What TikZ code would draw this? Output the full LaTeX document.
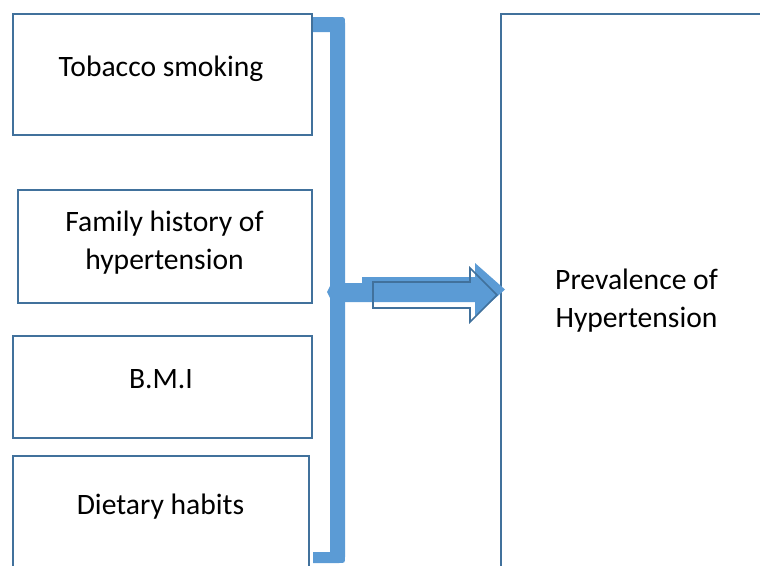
\documentclass[tikz,border=0pt]{standalone}
\usepackage{fontspec}
\setmainfont{Carlito}
\definecolor{boxline}{HTML}{41719C}
\definecolor{bracefill}{HTML}{5B9BD5}
\begin{document}
\begin{tikzpicture}[x=0.75pt,y=-0.75pt,
  factor/.style={draw=boxline, line width=1.6pt, fill=white, inner sep=0pt, outer sep=0pt},
  txt/.style={font=\fontsize{22.2pt}{28.5pt}\selectfont, align=center, inner sep=0pt, anchor=base},
  arrowline/.style={draw=boxline, line width=1.2pt, line join=miter}]
\useasboundingbox (0,0) rectangle (760,565);
\clip (0,0) rectangle (760,565);
% factor boxes
\node[factor, minimum width=224.25pt, minimum height=90.75pt] (b1) at (162.5,74.5) {};
\node[factor, minimum width=220.5pt, minimum height=84.75pt] (b2) at (165,246.5) {};
\node[factor, minimum width=224.25pt, minimum height=76.5pt] (b3) at (162.5,387) {};
\node[factor, minimum width=222pt, minimum height=107.25pt] (b4) at (161,527.5) {};
% outcome box
\node[factor, anchor=north west, minimum width=225pt, minimum height=450pt] (prev) at (501,14) {};
% texts (multi-line nodes are anchored at the baseline of their last line)
\node[txt] (t1) at (161,76) {Tobacco smoking};
\node[txt] (t2) at (164.5,269) {Family history of\\hypertension};
\node[txt] (t3) at (161,388) {B.M.I};
\node[txt] (t4) at (160.5,514) {Dietary habits};
\node[txt] (t5) at (636.5,327) {Prevalence of\\Hypertension};
% brace
\fill[bracefill] (313,17) -- (339,17) .. controls (345,17) .. (345,23) -- (345,557)
  .. controls (345,563) .. (339,563) -- (313,563) -- (313,552) -- (330,552) -- (330,298)
  -- (327,292) -- (330,286) -- (330,32) -- (313,32) -- cycle;
% filled arrow
\fill[bracefill] (344,283) -- (362,283) -- (362,277) -- (475,277) -- (475,263)
  -- (505,289.5) -- (475,316) -- (475,302) -- (344,302) -- cycle;
% outline arrow
\draw[arrowline] (373,282) -- (470,282) -- (470,268) -- (497,295) -- (470,322)
  -- (470,308) -- (373,308) -- cycle;
\end{tikzpicture}
\end{document}
